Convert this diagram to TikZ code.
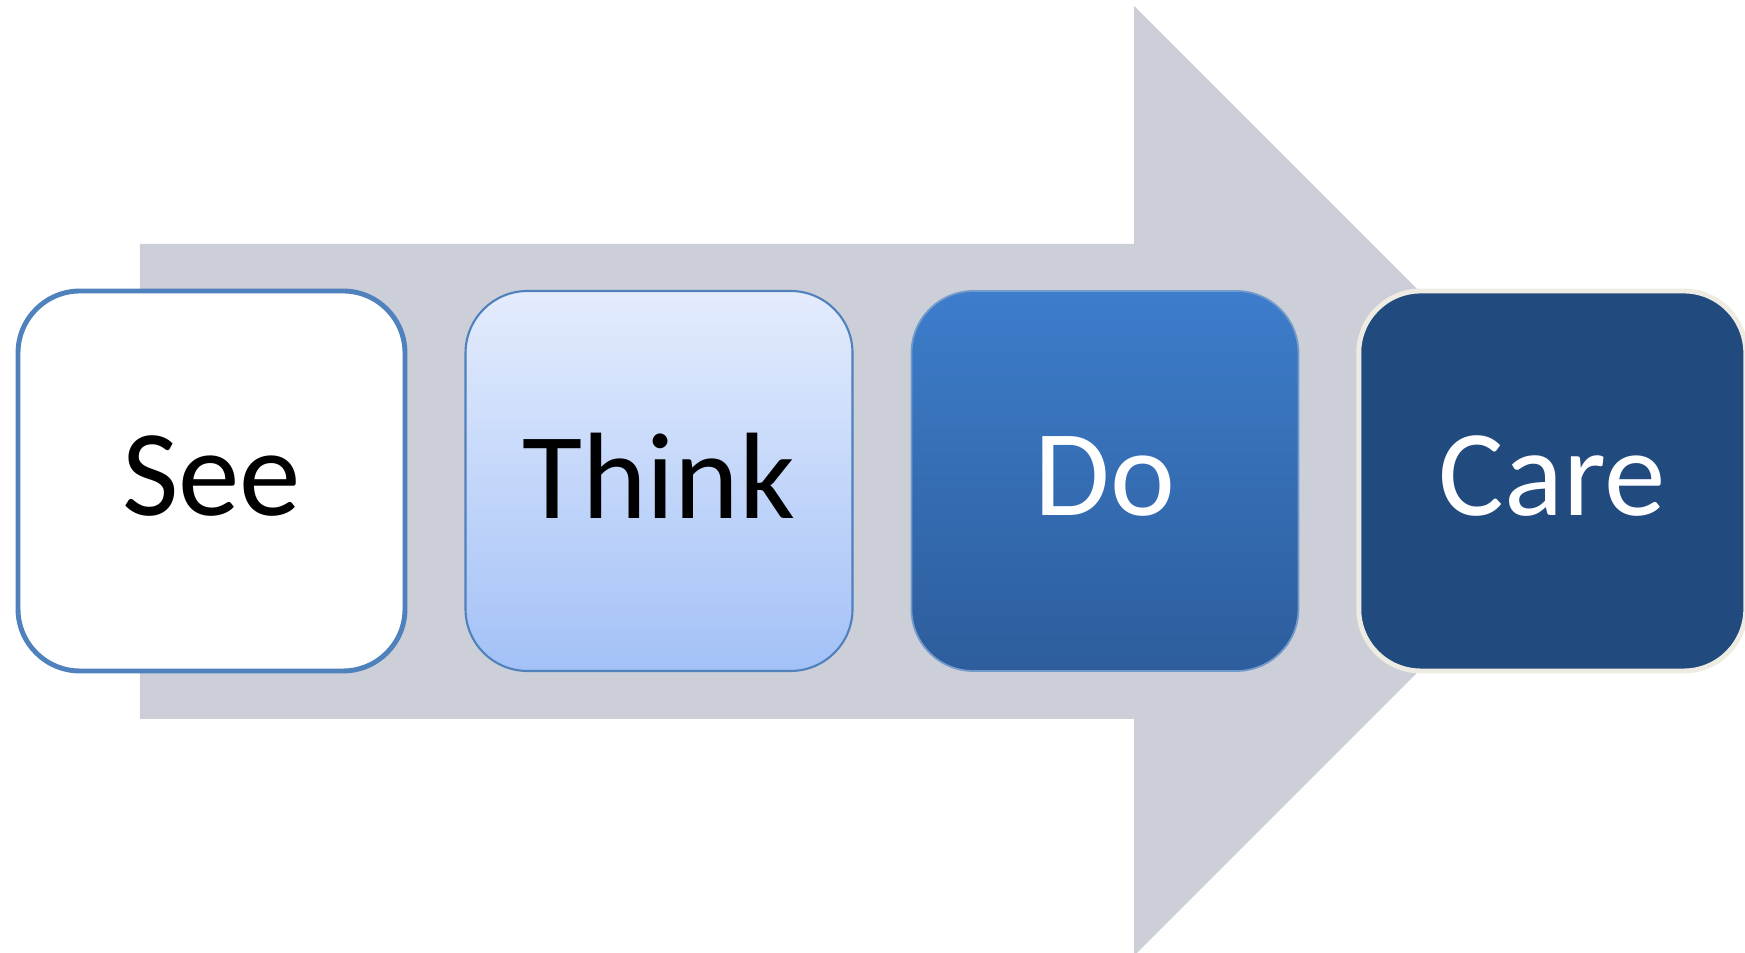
\documentclass[tikz,border=0pt]{standalone}
\usepackage{fontspec}
\setmainfont{Carlito}
\usetikzlibrary{positioning}
\definecolor{arrowgray}{HTML}{CCCFD8}
\definecolor{edgeblue}{HTML}{4F81BD}
\definecolor{thinktop}{HTML}{E4ECFD}
\definecolor{thinkbot}{HTML}{A3C1F7}
\definecolor{dotop}{HTML}{3D7DCB}
\definecolor{dobot}{HTML}{2D5D9C}
\definecolor{carefill}{HTML}{214A7E}
\definecolor{careedge}{HTML}{EEECE2}
\begin{document}
\begin{tikzpicture}[node distance=0.57cm,
      stage/.style={rectangle, rounded corners=0.62cm, minimum width=3.87cm,
                    minimum height=3.8cm, align=center, text depth=0.1cm,
                    font=\fontsize{35}{42}\selectfont}]
    \useasboundingbox (0,0) rectangle (17.45,9.53);
    % big arrow behind the boxes
    \fill[arrowgray] (1.40,7.09) -- (11.34,7.09) -- (11.34,9.47) -- (16.09,4.72)
      -- (11.34,-0.03) -- (11.34,2.34) -- (1.40,2.34) -- cycle;
    \node[stage, draw=edgeblue, line width=1.4pt, fill=white] (see) at (2.115,4.72) {See};
    \node[stage, right=of see, draw=edgeblue, line width=0.6pt,
          top color=thinktop, bottom color=thinkbot] (think) {Think};
    \node[stage, right=of think, draw=edgeblue!80, line width=0.5pt,
          top color=dotop, bottom color=dobot, text=white] (do) {Do};
    \node[stage, right=of do, draw=careedge, line width=1.4pt,
          fill=carefill, text=white] (care) {Care};
  \end{tikzpicture}
\end{document}
